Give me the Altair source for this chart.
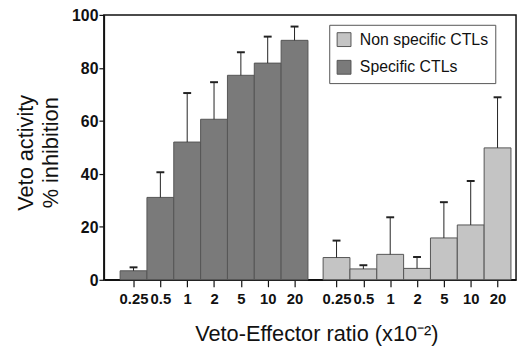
import altair as alt
import pandas as pd

# ---- data ----
ratios = ["0.25", "0.5", "1", "2", "5", "10", "20"]
specific = [3.4, 31.1, 52.0, 60.6, 77.2, 81.8, 90.4]
specific_err = [1.3, 9.5, 18.5, 14.0, 8.7, 10.0, 5.2]
nonspecific = [8.4, 4.1, 9.6, 4.3, 15.8, 20.7, 49.8]
nonspecific_err = [6.4, 1.4, 14.0, 4.3, 13.5, 16.6, 19.1]
groups = ["Non specific CTLs", "Specific CTLs"]
group_colors = ["#c4c4c4", "#7a7a7a"]

GAP = 7.565  # slot offset of the second group (group gap)

rows = []
for i, r in enumerate(ratios):
    rows.append({"group": groups[1], "i": i, "ratio": r,
                 "value": specific[i], "err": specific_err[i]})
for i, r in enumerate(ratios):
    rows.append({"group": groups[0], "i": i, "ratio": r,
                 "value": nonspecific[i], "err": nonspecific_err[i]})
df = pd.DataFrame(rows)

FONT = "Liberation Sans"
tick_vals = [float(i) for i in range(len(ratios))] + [GAP + i for i in range(len(ratios))]
label_list = "[" + ",".join("'%s'" % r for r in ratios) + "]"
label_expr = f"{label_list}[round(datum.value < 7 ? datum.value : datum.value - {GAP})]"

xscale = alt.Scale(domain=[-1.105, 14.254], nice=False, zero=False)
yscale = alt.Scale(domain=[0, 100], nice=False)

xaxis = alt.Axis(values=tick_vals, labelExpr=label_expr,
                 title="Veto-Effector ratio (x10\u207b\u00b2)",
                 labelFont=FONT, labelFontSize=15, labelFontWeight="bold",
                 labelColor="#111", labelOverlap=False, labelFlush=False,
                 labelPadding=5, tickSize=7, tickColor="#111", tickWidth=1.2,
                 domainColor="#111", domainWidth=1.5,
                 titleFont=FONT, titleFontSize=22, titleFontWeight="normal",
                 titleColor="#111", titleX=215, titleY=61,
                 titleBaseline="alphabetic", titleAlign="center", grid=False)
yaxis = alt.Axis(values=[0, 20, 40, 60, 80, 100],
                 title=["Veto activity", "% inhibition"],
                 labelFont=FONT, labelFontSize=16, labelFontWeight="bold",
                 labelColor="#111", labelPadding=1, tickSize=5, labelOffset=1,
                 tickColor="#111", tickWidth=1.2,
                 domainColor="#111", domainWidth=1.5,
                 titleFont=FONT, titleFontSize=22, titleFontWeight="normal",
                 titleColor="#111", titleAngle=270, titleX=-89, titleY=139,
                 titleBaseline="top", titleAlign="center", titleLineHeight=25,
                 grid=False)

base = alt.Chart(df).transform_calculate(
    pos=f"datum.i + (datum.group === '{groups[0]}' ? {GAP} : 0)"
).transform_calculate(
    x0="datum.pos - 0.5", x1="datum.pos + 0.5", top="datum.value + datum.err"
)

bars = base.mark_rect(stroke="#555555", strokeWidth=1).encode(
    x=alt.X("x0:Q", scale=xscale, axis=xaxis),
    x2="x1:Q",
    y=alt.Y("value:Q", scale=yscale, axis=yaxis),
    y2=alt.datum(0),
    fill=alt.Fill("group:N", scale=alt.Scale(domain=groups, range=group_colors),
                  legend=alt.Legend(title=None, orient="none", legendX=228, legendY=10,
                                    strokeColor="#555555", fillColor="white", padding=7,
                                    symbolType="square", symbolSize=196,
                                    symbolStrokeColor="#555555", symbolStrokeWidth=1,
                                    symbolOpacity=1,
                                    labelFont=FONT, labelFontSize=16, labelColor="#111",
                                    labelOffset=8, rowPadding=10)),
)

err_lines = base.mark_rule(color="#222222", strokeWidth=1).encode(
    x=alt.X("pos:Q", scale=xscale, axis=xaxis),
    y=alt.Y("value:Q", scale=yscale, axis=yaxis),
    y2="top:Q",
)

caps = base.mark_tick(orient="horizontal", size=8, thickness=2, color="#222222", opacity=1).encode(
    x=alt.X("pos:Q", scale=xscale, axis=xaxis),
    y=alt.Y("top:Q", scale=yscale, axis=yaxis),
)

chart = alt.layer(bars, err_lines, caps).properties(
    width=417, height=268,
    autosize=alt.AutoSizeParams(type="none"),
    padding={"left": 97, "top": 5, "right": 3, "bottom": 65},
).configure_view(stroke="#111111", strokeWidth=1.5)

chart.save("out.html", embed_options={"renderer": "svg", "actions": False})
